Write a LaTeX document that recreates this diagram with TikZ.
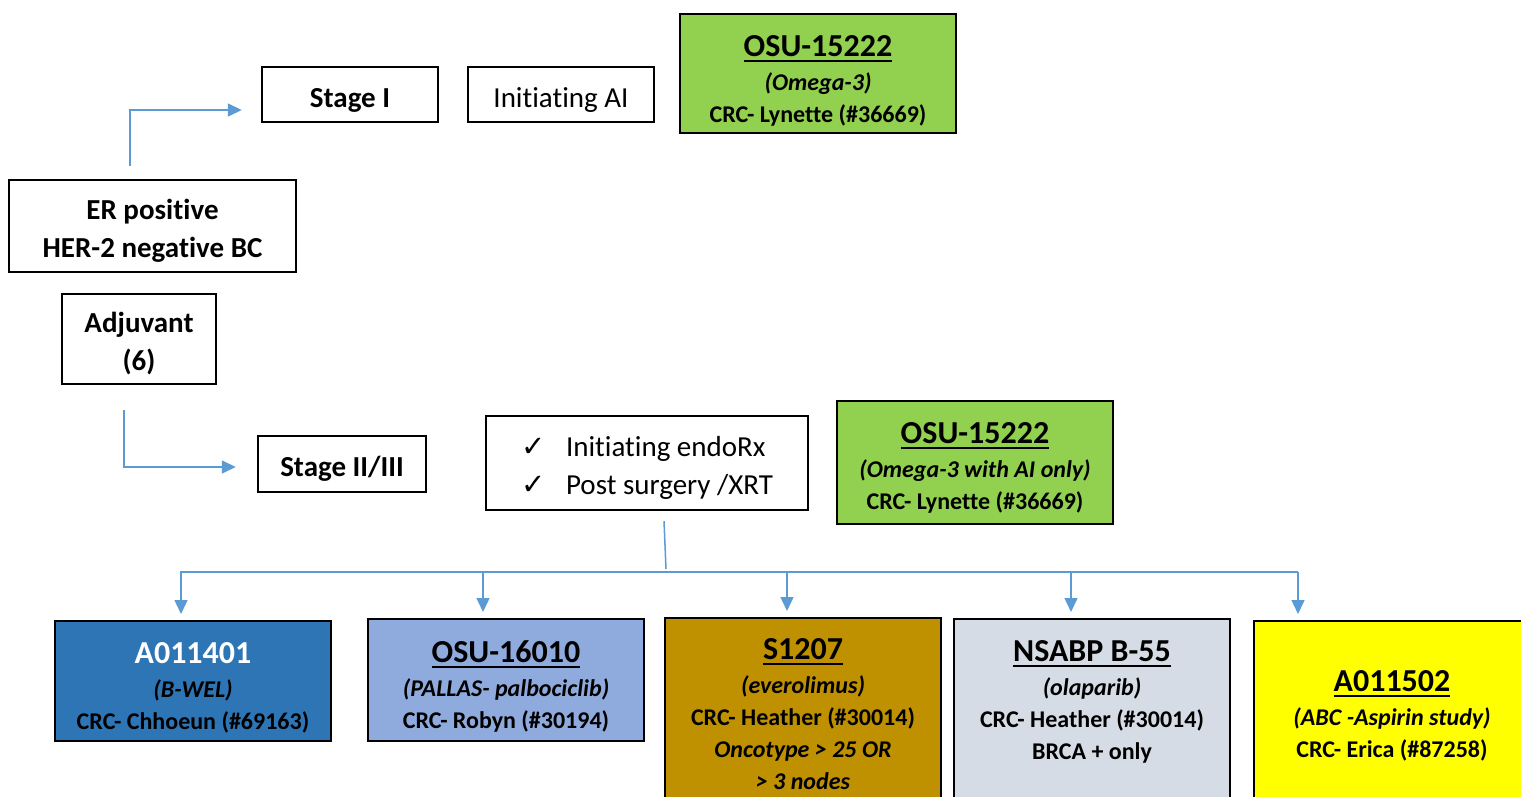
\documentclass[tikz,border=0pt]{standalone}
\usepackage{fontspec}
\setmainfont{Carlito}[Ligatures={NoCommon,NoContextual}]
\newfontfamily\checkfont{DejaVu Sans}
\usetikzlibrary{arrows.meta, positioning}

\definecolor{linkblue}{HTML}{5B9BD5}
\definecolor{trialgreen}{HTML}{92D050}
\definecolor{darkblue}{HTML}{2E75B6}
\definecolor{paleblue}{HTML}{8FAADC}
\definecolor{gold}{HTML}{BF9000}
\definecolor{greyblue}{HTML}{D6DCE5}
\definecolor{brightyellow}{HTML}{FFFF00}

\newcommand{\trialid}[1]{{\fontsize{16}{19}\selectfont\setbox0\hbox{#1}\rlap{\rule[-3pt]{\wd0}{1pt}}\box0}}
% taller first line, so the text sits low in its box as in Word
\newcommand{\wordstrut}{\rule{0pt}{15pt}}

\begin{document}
\begin{tikzpicture}[x=0.5pt, y=-0.5pt]
    \tikzstyle{box} = [rectangle, draw, line width=1.2pt, inner sep=0pt, align=center, font=\fontsize{14.5}{19}\selectfont]
    \tikzstyle{boldbox} = [box, font=\fontsize{14.5}{19}\selectfont\bfseries]
    \tikzstyle{trial} = [rectangle, draw, line width=1.2pt, anchor=north, minimum width=138pt]
    \tikzstyle{trialtext} = [align=center, inner sep=0pt, font=\fontsize{12}{16}\selectfont\bfseries]
    \tikzstyle{flow} = [linkblue, line width=0.75pt, -{Triangle[length=7pt, width=6.5pt]}]
    \tikzstyle{bus} = [linkblue, line width=0.75pt]

    \clip (0,0) rectangle (1521,797);

    % ER positive
    \node[boldbox, minimum width=143.5pt, minimum height=46pt] (er) at (152.5,226) {\wordstrut ER positive\\HER-2 negative BC};

    % Adjuvant
    \node[boldbox, minimum width=77pt, minimum height=45pt] (adj) at (139,339) {\wordstrut Adjuvant\\(6)};

    % Stage I
    \node[boldbox, minimum width=88pt, minimum height=27.5pt] (stage1) at (350,94.5) {\wordstrut Stage I};
    \node[box, minimum width=93pt, minimum height=27.5pt] (initai) at (561,94.5) {\wordstrut Initiating AI};
    \node[trial, fill=trialgreen, minimum height=59.5pt] (osua) at (818,13) {};
    \node[trialtext, below=11pt of osua.north] (osuatxt) {\trialid{OSU-15222}\\[1pt]\textit{(Omega-3)}\\CRC- Lynette (\#36669)};

    % Stage II/III
    \node[boldbox, minimum width=84pt, minimum height=28pt] (stage2) at (342,464) {\wordstrut Stage II/III};
    \node[box, minimum width=161pt, minimum height=47pt, align=left] (endo) at (647,463)
        {\wordstrut\makebox[22.5pt][l]{\checkfont ✓}Initiating endoRx\\\makebox[22.5pt][l]{\checkfont ✓}Post surgery /XRT};
    \node[trial, fill=trialgreen, minimum height=61.5pt] (osub) at (975,400) {};
    \node[trialtext, below=11pt of osub.north] (osubtxt) {\trialid{OSU-15222}\\[1pt]\textit{(Omega-3 with AI only)}\\CRC- Lynette (\#36669)};

    % Trials
    \node[trial, fill=darkblue, minimum height=60pt] (a011401) at (193,620) {};
    \node[trialtext, below=11pt of a011401.north] (a011401txt) {{\fontsize{16}{19}\selectfont\color{white}A011401}\\[1pt]\textit{(B-WEL)}\\CRC- Chhoeun (\#69163)};

    \node[trial, fill=paleblue, minimum height=61pt] (osu16010) at (506,618) {};
    \node[trialtext, below=11pt of osu16010.north] (osu16010txt) {\trialid{OSU-16010}\\[1pt]\textit{(PALLAS- palbociclib)}\\CRC- Robyn (\#30194)};

    \node[trial, fill=gold, minimum height=100pt] (s1207) at (803,617) {};
    \node[trialtext, below=10.5pt of s1207.north] (s1207txt) {\trialid{S1207}\\[1pt]\textit{(everolimus)}\\CRC- Heather (\#30014)\\\textit{Oncotype > 25 OR}\\\textit{> 3 nodes}};

    \node[trial, fill=greyblue, minimum height=100pt] (nsabp) at (1092,618) {};
    \node[trialtext, below=11pt of nsabp.north] (nsabptxt) {\trialid{NSABP B-55}\\[1pt]\textit{(olaparib)}\\CRC- Heather (\#30014)\\BRCA + only};

    \node[trial, fill=brightyellow, minimum height=100pt] (a011502) at (1392,620) {};
    \node[trialtext, below=25pt of a011502.north] (a011502txt) {\trialid{A011502}\\[1pt]\textit{(ABC -Aspirin study)}\\CRC- Erica (\#87258)};

    % Arrows
    \coordinate (up) at (130,166);
    \coordinate (down) at (124,410);
    \coordinate (split) at (666,569);
    \coordinate (busl) at (180,572);
    \coordinate (busr) at (1298,572);
    \draw[flow] (up) |- ([xshift=-9.5pt, yshift=-7.75pt]stage1.west);
    \draw[flow] (down) |- ([xshift=-10.5pt, yshift=-1.5pt]stage2.west);
    \draw[bus] ([xshift=8.5pt, yshift=-5pt]endo.south) -- (split);
    \draw[bus] (busl) -- (busr);
    \foreach \x/\t in {181/a011401, 483/osu16010, 787/s1207, 1071/nsabp, 1298/a011502}
        \draw[flow, shorten >=3pt] (\x,572) -- (\x,572 |- \t.north);
\end{tikzpicture}
\end{document}
